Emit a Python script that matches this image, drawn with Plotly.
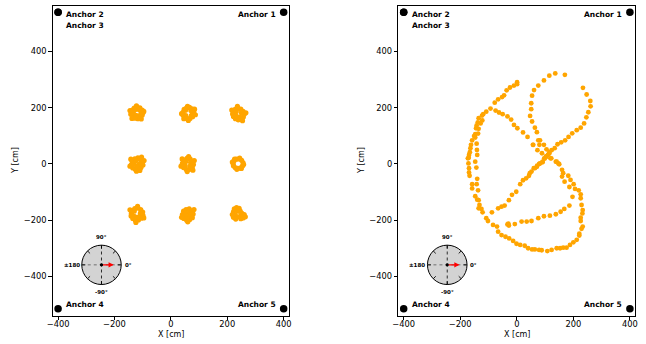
import numpy as np
import plotly.graph_objects as go

# ---------------- data ----------------
anchor_names = ["Anchor 1", "Anchor 2", "Anchor 3", "Anchor 4", "Anchor 5"]
anchor_x = [400, -400, -400, -400, 400]
anchor_y = [540, 540, 540, -515, -515]

tick_vals = [-400, -200, 0, 200, 400]
tick_text = ["−400", "−200", "0", "200", "400"]

# Left panel: static measurement clusters (cm)
c1_x = [-140, -137, -130, -120, -110, -102, -99, -102, -108, -117, -127, -135, -142, -133, -126, -112, -106, -115, -124, -145, -96, -122, -105, -138]
c1_y = [182, 192, 199, 202, 200, 192, 182, 173, 165, 161, 163, 169, 177, 186, 194, 193, 179, 170, 173, 190, 187, 207, 160, 162]
c2_x = [43, 47, 56, 66, 75, 81, 82, 77, 68, 58, 49, 43, 52, 71, 73, 53, 38, 84, 62, 59, 87, 46]
c2_y = [184, 194, 200, 201, 196, 187, 177, 168, 162, 161, 166, 174, 191, 190, 173, 172, 179, 195, 155, 205, 175, 161]
c3_x = [222, 228, 238, 248, 256, 260, 257, 249, 239, 229, 222, 219, 232, 250, 244, 231, 216, 266, 254, 236]
c3_y = [186, 194, 198, 195, 187, 177, 167, 160, 157, 161, 169, 178, 187, 182, 167, 172, 192, 182, 154, 205]
c4_x = [-140, -137, -128, -117, -108, -100, -99, -106, -116, -126, -135, -131, -112, -120, -125, -145, -95, -122, -104, -142, -110]
c4_y = [-2, 10, 18, 22, 16, 8, -4, -13, -18, -19, -14, 2, 0, -8, 11, -8, 12, -26, 24, 17, -23]
c5_x = [41, 46, 57, 68, 77, 80, 76, 66, 55, 45, 52, 70, 68, 51, 36, 83, 63, 58, 40, 78]
c5_y = [2, 14, 20, 18, 10, -2, -13, -19, -20, -13, 8, 6, -8, -7, -8, 12, 26, -27, 18, -22]
c6_x = [221, 224, 232, 242, 251, 256, 254, 247, 237, 228, 222, 218, 258, 244, 234, 250, 226]
c6_y = [1, 11, 17, 18, 13, 4, -7, -14, -16, -13, -6, 7, -2, 21, -19, -16, 17]
c7_x = [-140, -137, -128, -117, -107, -100, -99, -105, -115, -126, -135, -141, -130, -111, -108, -130, -120, -145, -96, -118, -124]
c7_y = [-176, -166, -159, -157, -162, -171, -183, -193, -199, -200, -194, -185, -186, -187, -175, -168, -190, -163, -192, -151, -208]
c8_x = [41, 45, 54, 65, 74, 79, 76, 67, 56, 46, 52, 66, 69, 57, 50, 72, 60, 38, 82]
c8_y = [-180, -168, -162, -160, -167, -178, -191, -198, -200, -194, -176, -173, -185, -189, -184, -180, -206, -190, -162]
c9_x = [222, 225, 233, 242, 246, 228, 236, 246, 222, 252, 260, 264, 248, 230, 218, 238, 256]
c9_y = [-170, -160, -155, -158, -168, -182, -188, -186, -190, -176, -180, -188, -195, -196, -180, -168, -192]

static_x = c1_x + c2_x + c3_x + c4_x + c5_x + c6_x + c7_x + c8_x + c9_x
static_y = c1_y + c2_y + c3_y + c4_y + c5_y + c6_y + c7_y + c8_y + c9_y

# Right panel: moving trajectory (cm)
path_x = [1, 1, -10, -24, -36, -45, -52, -66, -78, -93, -108, -119, -123,
          -135, -122, -128, -138, -142, -144, -135, -137, -147, -151, -147, -158, -142, -162, -164, -141, -166, -169, -140, -173, -147, -171,
          -75, -63, -50, -33, -20, -10, 2, 22, 38, 57, 73,
          76, 61, 54, 51, 51, 47, 54, 64, 71, 76, 80,
          96, 115, 136, 170,
          234, 247, 260, 261, 253, 246, 238, 226, 212, 196, 183, 171, 157, 144, 134, 123, 115, 110, 103, 99, 91, 138, 147,
          82, 96, 105, 115, 122, 89, 79, 58,
          -170, -143, -169, -169, -167, -140, -158, -142, -158, -137, -147, -135, -140, -132, -135, -125, -121, -108, -102,
          -84, -70, -66, -54, -40, -27, -13, -1, 12, 28, 40, 54, 64,
          -88, -66, -54, -43, -28, -17, -2, 12, 22, 33, 43, 52, 64, 71,
          -33, -28, -30, -7, 17, 35, 52, 76,
          97, 105, 119, 141, 150, 160, 164, 182, 160, 169, 190, 201, 186, 206, 219, 197, 226, 226, 229, 233, 232, 226, 226, 233, 229, 221, 221, 212, 200, 188, 176, 164, 153, 141, 123, 108, 88, 79,
          96, 117, 138, 155, 168, 186,
          60, 72, 82, 91, 46]
path_y = [291, 284, 279, 272, 262, 244, 238, 230, 218, 197, 186, 177, 172,
          163, 155, 144, 148, 137, 127, 125, 108, 106, 99, 94, 84, 72, 68, 56, 50, 42, 32, 32, 20, 8, 2,
          190, 183, 177, 169, 158, 139, 127, 112, 96, 68, 49,
          279, 263, 243, 216, 195, 171, 151, 129, 113, 84, 68,
          297, 314, 322, 317,
          271, 247, 224, 205, 184, 166, 144, 129, 120, 109, 96, 84, 77, 70, 56, 49, 37, 32, 27, 19, 6, 8, 2,
          84, 68, 52, 42, 20, 38, 0, 68,
          22, -13, -15, -30, -42, -53, -72, -72, -87, -94, -115, -129, -127, -146, -158, -160, -172, -193, -203,
          -217, -223, -241, -253, -259, -265, -274, -284, -288, -291, -300, -304, -304,
          -172, -158, -152, -148, -129, -110, -99, -72, -58, -51, -42, -27, -15, -10,
          -215, -219, -212, -214, -205, -205, -203, -193,
          20, 26, 20, 8, -1, -21, -33, -42, -45, -63, -57, -72, -82, -89, -94, -117, -108, -122, -146, -164, -176, -191, -203, -223, -231, -248, -255, -270, -279, -288, -298, -298, -300, -300, -306, -310, -307, -306,
          -186, -184, -179, -170, -160, -148,
          -15, -6, 2, 8, -33]

# ---------------- styling constants ----------------
ORANGE = "#FFA500"
FONT = "DejaVu Sans"
X_RANGE = [-419, 419]
Y_RANGE = [-541, 562]
COMPASS_C = (-246, -359)
COMPASS_R = 70

fig = go.Figure()

panels = [("x", "y", static_x, static_y, 5.2), ("x2", "y2", path_x, path_y, 4.8)]
for xa, ya, px, py, ms in panels:
    fig.add_trace(go.Scatter(x=px, y=py, mode="markers", xaxis=xa, yaxis=ya,
                             marker=dict(color=ORANGE, size=ms, line=dict(width=0)),
                             showlegend=False, hoverinfo="skip"))
    fig.add_trace(go.Scatter(x=anchor_x, y=anchor_y, mode="markers", xaxis=xa, yaxis=ya,
                             marker=dict(color="black", size=7.5, line=dict(width=0)),
                             showlegend=False, hoverinfo="skip"))

shapes = []
annotations = []


def add_panel_decor(xa, ya):
    cx, cy = COMPASS_C
    r = COMPASS_R
    shapes.append(dict(type="circle", xref=xa, yref=ya, x0=cx - r, x1=cx + r, y0=cy - r, y1=cy + r,
                       fillcolor="#d3d3d3", line=dict(color="black", width=1), layer="above"))
    # crosshair
    shapes.append(dict(type="line", xref=xa, yref=ya, x0=cx - r, x1=cx + r, y0=cy, y1=cy,
                       line=dict(color="#555555", width=0.8, dash="dot"), layer="above"))
    shapes.append(dict(type="line", xref=xa, yref=ya, x0=cx, x1=cx, y0=cy - r, y1=cy + r,
                       line=dict(color="black", width=0.8, dash="dot"), layer="above"))
    # ticks every 45 degrees
    for ang in range(0, 360, 45):
        a = np.deg2rad(ang)
        shapes.append(dict(type="line", xref=xa, yref=ya,
                           x0=cx + 0.82 * r * np.cos(a), y0=cy + 0.82 * r * np.sin(a),
                           x1=cx + 1.0 * r * np.cos(a), y1=cy + 1.0 * r * np.sin(a),
                           line=dict(color="black", width=0.9), layer="above"))
    # red arrow
    annotations.append(dict(x=cx + 0.62 * r, y=cy, ax=cx, ay=cy, xref=xa, yref=ya, axref=xa, ayref=ya,
                            text="", showarrow=True, arrowhead=2, arrowsize=0.8, arrowwidth=1.3,
                            arrowcolor="red"))
    # center dot
    shapes.append(dict(type="circle", xref=xa, yref=ya, x0=cx - 6, x1=cx + 6, y0=cy - 6, y1=cy + 6,
                       fillcolor="black", line=dict(width=0), layer="above"))
    lab_font = dict(family=FONT, size=5.5, color="black", weight="bold")
    annotations.append(dict(x=cx, y=cy + 1.4 * r, xref=xa, yref=ya, text="90°", showarrow=False, font=lab_font))
    annotations.append(dict(x=cx, y=cy - 1.38 * r, xref=xa, yref=ya, text="-90°", showarrow=False, font=lab_font))
    annotations.append(dict(x=cx + 1.35 * r, y=cy, xref=xa, yref=ya, text="0°", showarrow=False, font=lab_font))
    annotations.append(dict(x=cx - 1.0 * r, y=cy, xref=xa, yref=ya, text="±180", showarrow=False,
                            xanchor="right", font=lab_font))
    # anchor labels
    af = dict(family=FONT, size=7.5, color="black", weight="bold")
    annotations.append(dict(x=anchor_x[0], y=anchor_y[0], xref=xa, yref=ya, text=anchor_names[0],
                            showarrow=False, xanchor="right", xshift=-6, yshift=-2, font=af))
    annotations.append(dict(x=anchor_x[1], y=anchor_y[1], xref=xa, yref=ya, text=anchor_names[1],
                            showarrow=False, xanchor="left", xshift=6, yshift=-2, font=af))
    annotations.append(dict(x=anchor_x[2], y=anchor_y[2], xref=xa, yref=ya, text=anchor_names[2],
                            showarrow=False, xanchor="left", xshift=6, yshift=-13, font=af))
    annotations.append(dict(x=anchor_x[3], y=anchor_y[3], xref=xa, yref=ya, text=anchor_names[3],
                            showarrow=False, xanchor="left", xshift=6, yshift=4, font=af))
    annotations.append(dict(x=anchor_x[4], y=anchor_y[4], xref=xa, yref=ya, text=anchor_names[4],
                            showarrow=False, xanchor="right", xshift=-6, yshift=4, font=af))


add_panel_decor("x", "y")
add_panel_decor("x2", "y2")

title_font = dict(family=FONT, size=8, color="black")
for xc in [0.2647, 0.8003]:
    annotations.append(dict(x=xc, y=0.029, xref="paper", yref="paper", text="X [cm]", showarrow=False,
                            xanchor="center", yanchor="middle", font=title_font))
for xc in [0.0248, 0.5604]:
    annotations.append(dict(x=xc, y=0.532, xref="paper", yref="paper", text="Y [cm]", showarrow=False,
                            xanchor="center", yanchor="middle", textangle=-90, font=title_font))

axis_common = dict(showgrid=False, zeroline=False, showline=True, mirror=True, linecolor="black",
                   linewidth=1, ticks="outside", ticklen=3.5, tickwidth=0.8, tickcolor="black",
                   tickvals=tick_vals, ticktext=tick_text,
                   tickfont=dict(family=FONT, size=8.3, color="black"), automargin=False)

fig.update_layout(
    width=646, height=344, autosize=False,
    margin=dict(l=0, r=0, t=0, b=0),
    paper_bgcolor="white", plot_bgcolor="white",
    xaxis=dict(domain=[0.0816, 0.4474], range=X_RANGE, anchor="y", ticklabelstandoff=-3, **axis_common),
    yaxis=dict(domain=[0.0814, 0.9826], range=Y_RANGE, anchor="x", **axis_common),
    xaxis2=dict(domain=[0.6166, 0.9834], range=X_RANGE, anchor="y2", ticklabelstandoff=-3, **axis_common),
    yaxis2=dict(domain=[0.0814, 0.9826], range=Y_RANGE, anchor="x2", **axis_common),
    shapes=shapes, annotations=annotations,
)

fig.write_html("out.html", config={"displayModeBar": False},
               post_script="document.body.style.margin='0px';")
